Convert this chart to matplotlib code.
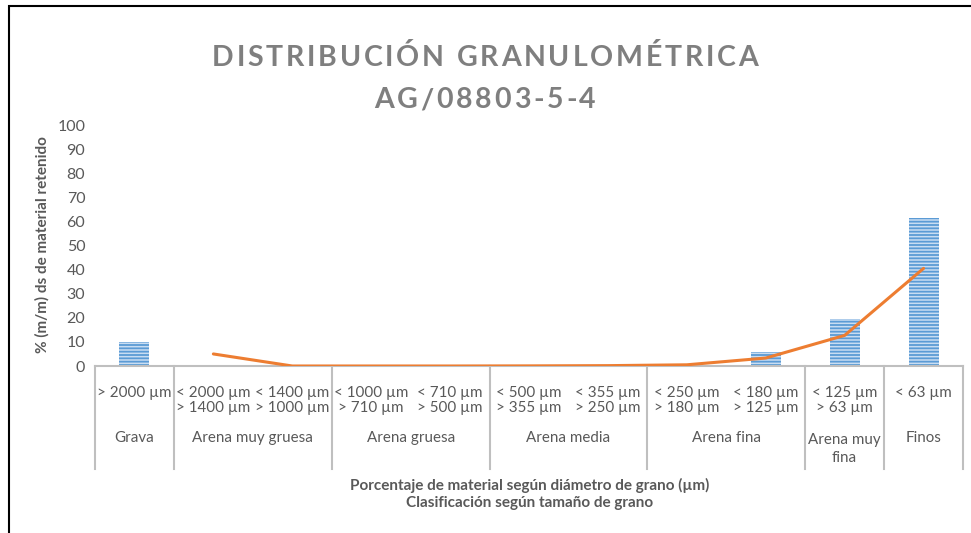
import matplotlib
matplotlib.use("Agg")
import matplotlib.pyplot as plt
import matplotlib.transforms as mtransforms
from matplotlib.patches import Rectangle
import numpy as np

# Size fractions (upper line / lower line of each tick label)
size_upper = ["> 2000 µm", "< 2000 µm", "< 1400 µm", "< 1000 µm", "< 710 µm",
              "< 500 µm", "< 355 µm", "< 250 µm", "< 180 µm", "< 125 µm", "< 63 µm"]
size_lower = ["", "> 1400 µm", "> 1000 µm", "> 710 µm", "> 500 µm",
              "> 355 µm", "> 250 µm", "> 180 µm", "> 125 µm", "> 63 µm", ""]

# Classification groups and how many fractions each covers
groups = ["Grava", "Arena muy gruesa", "Arena gruesa", "Arena media",
          "Arena fina", "Arena muy\nfina", "Finos"]
group_sizes = [1, 2, 2, 2, 2, 1, 1]

# % (m/m) retained per fraction
retained = [10.0, 0.0, 0.0, 0.0, 0.0, 0.1, 0.2, 0.8, 5.8, 19.6, 61.4]

# Two-period moving-average trend (starts at the second fraction)
trend = [5.0, 0.0, 0.0, 0.0, 0.05, 0.15, 0.5, 3.3, 12.7, 40.5]

title_lines = ["DISTRIBUCIÓN GRANULOMÉTRICA", "AG/08803-5-4"]

W, H = 971, 533
DPI = 100
GREY = "#595959"
TITLE_GREY = "#7F7F7F"
SEP = "#BFBFBF"
plt.rcParams["font.family"] = ["Lato", "DejaVu Sans"]
plt.rcParams["hatch.linewidth"] = 1.3

fig = plt.figure(figsize=(W / DPI, H / DPI), dpi=DPI)
renderer = fig.canvas.get_renderer()


def fy(ypix):
    return 1 - ypix / H


ax_left, ax_right, ax_top, ax_bot = 95, 963, 125, 366
ax = fig.add_axes([ax_left / W, fy(ax_bot), (ax_right - ax_left) / W, (ax_bot - ax_top) / H])

n = len(size_upper)
x = np.arange(n)
ax.bar(x, retained, width=0.38, color="#C9DDF2", edgecolor="#5B9BD5",
       linewidth=0, hatch="-----", zorder=2)
ax.plot(x[1:], trend, color="#ED7D31", linewidth=2.2, zorder=3, solid_capstyle="round")

ax.set_xlim(-0.5, n - 0.5)
ax.set_ylim(0, 100)
ax.set_yticks(np.arange(0, 101, 10))
ax.tick_params(axis="y", length=0, labelsize=11.5, labelcolor=GREY, pad=7)
ax.set_xticks([])
for s in ["top", "right", "left"]:
    ax.spines[s].set_visible(False)
ax.spines["bottom"].set_color(SEP)
ax.spines["bottom"].set_linewidth(1.5)

# Multi-level category axis below the plot
LBL = 10.9
tr = mtransforms.blended_transform_factory(ax.transData, fig.transFigure)
for i in range(n):
    ax.text(i, fy(393), size_upper[i], transform=tr, ha="center", va="center",
            fontsize=LBL, color=GREY, clip_on=False)
    if size_lower[i]:
        ax.text(i, fy(408), size_lower[i], transform=tr, ha="center", va="center",
                fontsize=LBL, color=GREY, clip_on=False)

edges = np.concatenate([[0], np.cumsum(group_sizes)]) - 0.5
for e in edges:
    ax.plot([e, e], [fy(ax_bot), fy(469)], transform=tr, color=SEP,
            linewidth=1.5, clip_on=False)
for g, a, b in zip(groups, edges[:-1], edges[1:]):
    if "\n" in g:
        ax.text((a + b) / 2, fy(449), g, transform=tr, ha="center", va="center",
                fontsize=LBL, color=GREY, linespacing=1.4, clip_on=False)
    else:
        ax.text((a + b) / 2, fy(438), g, transform=tr, ha="center", va="center",
                fontsize=LBL, color=GREY, clip_on=False)

# Axis titles
fig.text(530 / W, fy(485), "Porcentaje de material según diámetro de grano (µm)",
         ha="center", va="center", fontsize=11, fontweight="bold", color=GREY)
fig.text(530 / W, fy(503), "Clasificación según tamaño de grano",
         ha="center", va="center", fontsize=11, fontweight="bold", color=GREY)
fig.text(42 / W, fy(245), "% (m/m) ds de material retenido", rotation=90,
         ha="center", va="center", fontsize=11, fontweight="bold", color=GREY)


# Letter-spaced title, centred on the chart
def spaced_title(text, ycen, size, spacing_px):
    widths = []
    for ch in text:
        t = fig.text(0, 0, ch, fontsize=size, fontweight="bold")
        widths.append(t.get_window_extent(renderer).width)
        t.remove()
    total = sum(widths) + spacing_px * (len(text) - 1)
    xpix = 485 - total / 2
    for ch, w in zip(text, widths):
        fig.text(xpix / W, fy(ycen), ch, fontsize=size, fontweight="bold",
                 color=TITLE_GREY, ha="left", va="center")
        xpix += w + spacing_px


spaced_title(title_lines[0], 58, 20.5, 2.8)
spaced_title(title_lines[1], 100, 20.5, 2.8)

# Chart frame
fig.add_artist(Rectangle((9 / W, fy(H + 20)), (W + 20) / W, (H + 14) / H,
                         transform=fig.transFigure, fill=False,
                         edgecolor="black", linewidth=1.5))

fig.savefig("out.png", dpi=DPI, facecolor="white")
